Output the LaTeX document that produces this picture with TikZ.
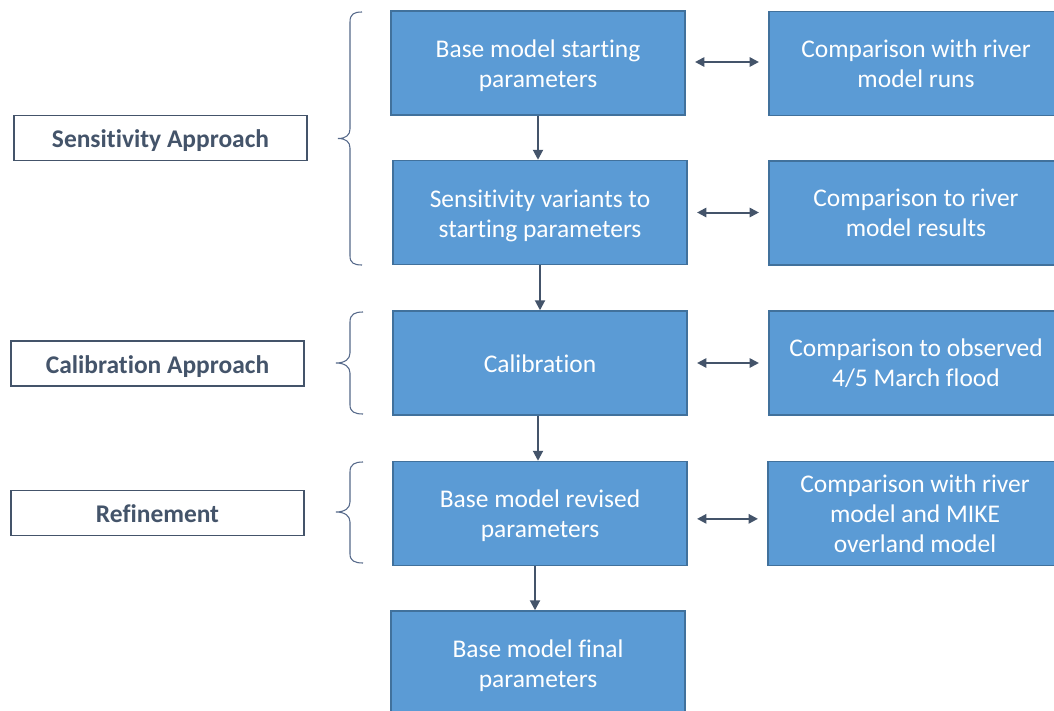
\documentclass[tikz,border=0pt]{standalone}
\usepackage{fontspec}
\setmainfont{Carlito}[Ligatures=NoCommon]
\usetikzlibrary{arrows.meta}
\definecolor{boxblue}{HTML}{5B9BD5}
\definecolor{boxedge}{HTML}{41719C}
\definecolor{slate}{HTML}{44546A}
\definecolor{bracecol}{HTML}{56698A}
\newcommand{\lnstrut}{\rule[-0.2em]{0pt}{1.16em}}
\begin{document}
\begin{tikzpicture}[x=0.75pt,y=-0.75pt,
  flowbox/.style={draw=boxedge, line width=1.1pt, fill=boxblue,
    minimum width=220.5pt, minimum height=78pt, inner sep=0pt},
  boxtext/.style={text=white, inner sep=0pt, align=center,
    font=\fontsize{19.1}{22.5}\selectfont},
  labelbox/.style={draw=slate, line width=1.1pt, fill=white, text=slate,
    minimum width=219.75pt, minimum height=33.75pt, inner sep=0pt, align=center,
    font=\fontsize{19.1}{22.5}\selectfont\bfseries,
    execute at begin node=\lnstrut, execute at end node=\lnstrut},
  flow/.style={draw=slate, line width=1.5pt, -{Triangle[length=7.5pt,width=7.5pt]}},
  link/.style={draw=slate, line width=1.5pt, {Triangle[length=7pt,width=7pt]}-{Triangle[length=7pt,width=7pt]}, shorten <=7pt, shorten >=7pt},
  bracepath/.style={draw=bracecol, line width=0.8pt}
]
\useasboundingbox (0,0) rectangle (1054,711);
\fill[white] (0,0) rectangle (1054,711);

% centre column
\node[flowbox] (b1) at (538,63) {};
\node[flowbox] (b2) at (540,212.5) {};
\node[flowbox] (b3) at (540,363) {};
\node[flowbox] (b4) at (540,513.5) {};
\node[flowbox] (b5) at (538,663) {};
\node[boxtext] (b1t) at ([yshift=-2.25pt]b1.center) {Base model starting\\parameters};
\node[boxtext] (b2t) at ([yshift=-2.6pt]b2.center) {Sensitivity variants to\\starting parameters};
\node[boxtext] (b3t) at ([yshift=-0.75pt]b3.center) {Calibration};
\node[boxtext] (b4t) at ([yshift=-1.9pt]b4.center) {Base model revised\\parameters};
\node[boxtext] (b5t) at ([yshift=-2.25pt]b5.center) {Base model final\\parameters};

% right column
\node[flowbox] (r1) at (916,63.5) {};
\node[flowbox] (r2) at (916,213) {};
\node[flowbox] (r3) at (916,363) {};
\node[flowbox] (r4) at (915,513.5) {};
\node[boxtext] (r1t) at (r1.center) {Comparison with river\\model runs};
\node[boxtext] (r2t) at (r2.center) {Comparison to river\\model results};
\node[boxtext] (r3t) at (r3.center) {Comparison to observed\\4/5 March flood};
\node[boxtext] (r4t) at (r4.center) {Comparison with river\\model and MIKE\\overland model};

% left labels
\node[labelbox] (l1) at (160.5,138) {Sensitivity Approach};
\node[labelbox] (l2) at (157.5,363.5) {Calibration Approach};
\node[labelbox] (l3) at (157.5,513) {Refinement};

% braces
\draw[bracepath] (362,12) .. controls (354,12) and (350,14) .. (350,22) -- (350,129)
  .. controls (350,135) and (346,138.5) .. (338,138.5)
  .. controls (346,138.5) and (350,142) .. (350,148) -- (350,256)
  .. controls (350,263) and (354,265) .. (362,265);
\draw[bracepath] (363,312) .. controls (355,312) and (350,314) .. (350,322) -- (350,353)
  .. controls (350,359) and (345,363) .. (336,363)
  .. controls (345,363) and (350,367) .. (350,373) -- (350,405)
  .. controls (350,412) and (355,414) .. (363,414);
\draw[bracepath] (363,462) .. controls (355,462) and (350,464) .. (350,472) -- (350,502)
  .. controls (350,508) and (345,512) .. (336,512)
  .. controls (345,512) and (350,516) .. (350,522) -- (350,554)
  .. controls (350,561) and (355,563) .. (363,563);

% vertical flow arrows
\draw[flow] (b1.south) -- (b1.south |- b2.north);
\draw[flow] (b2.south) -- (b3.north);
\draw[flow] (b3.south -| b1.south) -- (b1.south |- b4.north);
\draw[flow] (b5.north |- b4.south) ++(-3,0) coordinate (c45) -- (c45 |- b5.north);

% horizontal links
\draw[link] ([yshift=0.75pt]b1.east) -- ([yshift=0.75pt]b1.east -| r1.west);
\draw[link] (b2.east) -- (b2.east -| r2.west);
\draw[link] (b3.east) -- (r3.west);
\draw[link] ([yshift=-4pt]b4.east) -- ([yshift=-4pt]b4.east -| r4.west);
\end{tikzpicture}
\end{document}
